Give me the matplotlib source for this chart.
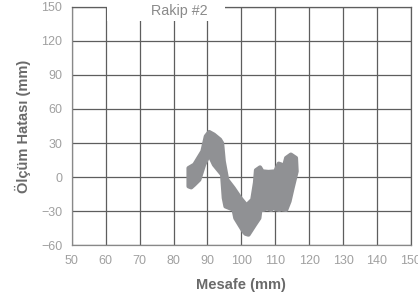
import matplotlib
matplotlib.use("Agg")
import matplotlib.pyplot as plt
from matplotlib.patches import Rectangle

plt.rcParams['font.family'] = ['Liberation Sans', 'DejaVu Sans']

# Ölçüm bandı (dış sınır, saat yönünde)
band_x = [84.4, 84.4, 86.1, 88.5, 89.5, 90.5, 91.9, 93.7, 94.3, 94.8, 95.8, 97.7,
          99.7, 101.5, 103.2, 104.0, 104.3, 105.5, 106.2, 108.0, 110.0, 111.0,
          111.8, 112.2, 113.2, 114.6, 116.1, 116.3, 115.1, 114.2, 113.2, 112.2,
          111.7, 111.2, 110.0, 109.3, 108.8, 107.5, 106.5, 105.6, 105.3, 104.0,
          102.1, 101.2, 100.6, 98.2, 97.7, 95.3, 94.8, 94.3, 91.9, 90.5, 89.0,
          87.6, 86.1, 85.2]
band_y = [-8.2, 7.9, 10.9, 22.7, 35.9, 39.7, 37.4, 33.0, 30.0, 13.9, -2.3, -9.7,
          -18.5, -25.0, -20.0, -5.0, 6.0, 8.5, 5.0, 4.5, 5.0, 11.8,
          11.0, 5.0, 16.8, 19.8, 16.8, 5.0, -9.7, -21.4, -29.0, -28.5,
          -26.0, -29.0, -28.0, -26.0, -29.0, -27.5, -29.0, -29.0, -36.2, -42.0,
          -50.8, -50.0, -47.9, -36.2, -28.8, -25.9, -18.5, 2.1, 10.9, 19.8, 10.9,
          -2.3, -6.7, -9.1]

x_ticks = [50, 60, 70, 80, 90, 100, 110, 120, 130, 140, 150]
y_ticks = [-60, -30, 0, 30, 60, 90, 120, 150]
title = "Rakip #2"

fig = plt.figure(figsize=(4.18, 3.0), dpi=100)
ax = fig.add_axes([0.172, 0.183, 0.811, 0.794])

ax.fill(band_x, band_y, color='#909194', lw=3, ec='#909194', joinstyle='round', zorder=3)

ax.set_xlim(50, 150)
ax.set_ylim(-60, 150)
ax.set_xticks(x_ticks)
ax.set_yticks(y_ticks)
ax.tick_params(length=0, labelsize=9, labelcolor='#a0a0a0', pad=7)
ax.grid(True, color='#5e5e5e', lw=0.9, zorder=1)
ax.set_axisbelow(True)

for side in ['top', 'right']:
    ax.spines[side].set_color('#5e5e5e')
    ax.spines[side].set_linewidth(0.9)
for side in ['left', 'bottom']:
    ax.spines[side].set_color('#888888')
    ax.spines[side].set_linewidth(0.9)

# beyaz kutu: başlık üst kenarı keser
ax.add_patch(Rectangle((60.3, 137.5), 34.8, 14, facecolor='white', edgecolor='none',
                       zorder=4, clip_on=False))
ax.text(81.6, 146.5, title, ha='center', va='center', fontsize=10.3, color='#8a8a8a', zorder=5)

ax.set_xlabel("Mesafe (mm)", fontsize=10.5, fontweight='bold', color='#6a6a6a', labelpad=8)
ax.set_ylabel("Ölçüm Hatası (mm)", fontsize=10.5, fontweight='bold', color='#6a6a6a', labelpad=7)

fig.savefig("out.png", dpi=100)
